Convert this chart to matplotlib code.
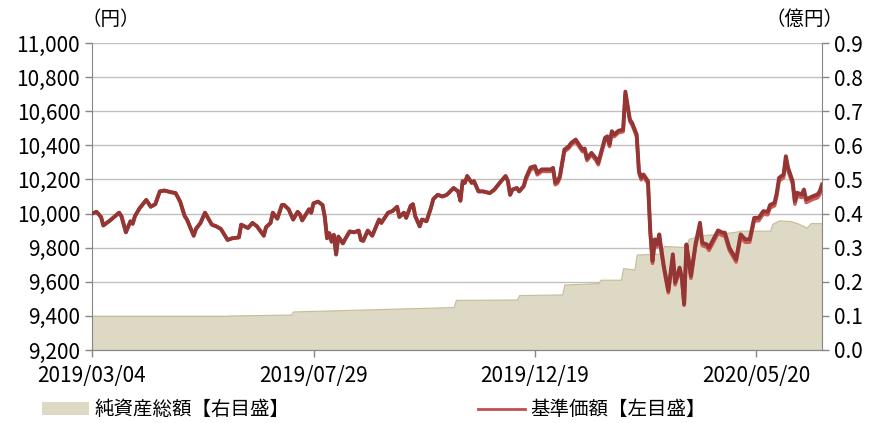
import matplotlib.pyplot as plt
from matplotlib.patches import Patch
from matplotlib.lines import Line2D

plt.rcParams['font.family'] = ['Noto Sans CJK JP', 'DejaVu Sans']

# business-day index of each reading (0 = 2019/03/04)
days = [0, 2, 4, 5, 8, 12, 13, 15, 17, 18, 19, 21, 24, 26, 28, 30, 32, 35, 37, 39,
        41, 42, 45, 46, 48, 50, 53, 55, 57, 60, 62, 65, 66, 69, 71, 73, 76, 77, 79, 80,
        82, 83, 84, 85, 87, 89, 91, 92, 93, 96, 97, 98, 100, 102, 103, 104, 105, 106, 107, 108,
        109, 111, 112, 114, 116, 118, 119, 120, 122, 123, 124, 127, 128, 130, 131, 133, 135, 136, 138, 139,
        141, 142, 143, 145, 146, 148, 150, 151, 153, 155, 157, 160, 162, 163, 164, 165, 166, 168, 169, 171,
        173, 176, 178, 181, 183, 184, 185, 186, 188, 189, 191, 192, 194, 196, 197, 199, 203, 204, 205, 206,
        207, 209, 211, 212, 214, 215, 217, 218, 219, 221, 223, 224, 226, 227, 228, 229, 230, 231, 233, 235,
        236, 238, 239, 241, 242, 243, 244, 246, 247, 248, 249, 250, 251, 252, 253, 255, 257, 258, 260, 261,
        262, 263, 264, 265, 267, 269, 270, 272, 273, 277, 279, 280, 282, 285, 287, 289, 291, 293, 295, 297,
        299, 300, 302, 303, 304, 306, 307, 308, 310, 311, 312, 314, 315, 316, 319, 321, 322, 323]

# dark line (reinvested NAV)
nav_dark = [10000, 10010, 9980, 9930, 9960, 10005, 9985, 9890, 9955, 9940, 9985, 10030, 10080, 10040, 10055, 10130, 10135, 10125, 10120, 10070,
            9985, 9965, 9870, 9910, 9945, 10005, 9935, 9925, 9910, 9845, 9855, 9860, 9935, 9915, 9945, 9925, 9870, 9920, 9945, 10005,
            9970, 10010, 10050, 10050, 10025, 9965, 10010, 9995, 9960, 10025, 10005, 10060, 10070, 10050, 9980, 9855, 9885, 9835, 9875, 9760,
            9865, 9825, 9850, 9895, 9890, 9900, 9845, 9840, 9900, 9885, 9870, 9965, 9945, 9985, 10005, 10015, 10040, 9980, 10005, 9975,
            10045, 10055, 9985, 9925, 9965, 9955, 10035, 10085, 10110, 10100, 10110, 10150, 10130, 10075, 10190, 10180, 10220, 10180, 10190, 10130,
            10130, 10120, 10140, 10190, 10220, 10190, 10110, 10140, 10150, 10130, 10160, 10210, 10270, 10278, 10239, 10259, 10259, 10268, 10181, 10190,
            10220, 10375, 10395, 10414, 10434, 10414, 10375, 10381, 10323, 10356, 10323, 10298, 10395, 10444, 10453, 10405, 10483, 10463, 10486, 10492,
            10715, 10551, 10531, 10463, 10249, 10210, 10229, 10190, 9900, 9722, 9849, 9820, 9878, 9781, 9693, 9548, 9761, 9596, 9683, 9625,
            9470, 9819, 9732, 9635, 9819, 9946, 9829, 9819, 9800, 9901, 9888, 9888, 9800, 9732, 9878, 9849, 9849, 9975, 9975, 10014,
            10010, 10050, 10063, 10122, 10209, 10229, 10336, 10268, 10190, 10073, 10122, 10112, 10141, 10083, 10102, 10112, 10131, 10170]

# 基準価額
nav = [10000, 10010, 9980, 9930, 9960, 10005, 9985, 9890, 9955, 9940, 9985, 10030, 10080, 10040, 10055, 10130, 10135, 10125, 10120, 10070,
       9985, 9965, 9870, 9910, 9945, 10005, 9935, 9925, 9910, 9845, 9855, 9860, 9935, 9915, 9945, 9925, 9870, 9920, 9945, 10005,
       9970, 10010, 10050, 10050, 10025, 9965, 10010, 9995, 9960, 10025, 10005, 10060, 10070, 10050, 9980, 9855, 9885, 9835, 9875, 9760,
       9865, 9825, 9850, 9895, 9890, 9900, 9845, 9840, 9900, 9885, 9870, 9965, 9945, 9985, 10005, 10015, 10040, 9980, 10005, 9975,
       10045, 10055, 9985, 9925, 9965, 9955, 10035, 10085, 10110, 10100, 10110, 10150, 10130, 10075, 10190, 10180, 10220, 10180, 10190, 10130,
       10130, 10120, 10140, 10190, 10220, 10190, 10110, 10140, 10150, 10130, 10160, 10198, 10258, 10266, 10227, 10247, 10247, 10256, 10169, 10178,
       10208, 10363, 10383, 10402, 10422, 10402, 10363, 10369, 10311, 10344, 10311, 10286, 10383, 10432, 10441, 10393, 10471, 10451, 10474, 10480,
       10700, 10539, 10519, 10451, 10237, 10198, 10217, 10175, 9885, 9708, 9833, 9804, 9862, 9765, 9678, 9535, 9745, 9582, 9667, 9610,
       9462, 9803, 9716, 9620, 9803, 9930, 9813, 9803, 9784, 9884, 9871, 9871, 9784, 9716, 9862, 9832, 9832, 9958, 9958, 9997,
       9993, 10033, 10046, 10105, 10191, 10211, 10318, 10250, 10172, 10055, 10104, 10094, 10122, 10065, 10084, 10093, 10112, 10150]

# 純資産総額 (億円)
aum_days = [0, 60, 61, 88, 89, 160, 161, 188, 189, 208, 209, 224, 225, 234, 235, 240, 241, 252, 253, 263,
            264, 270, 278, 285, 287, 300, 301, 304, 309, 312, 315, 316, 318, 323]
aum = [0.100, 0.100, 0.101, 0.104, 0.113, 0.126, 0.147, 0.148, 0.161, 0.163, 0.192, 0.196, 0.206, 0.206, 0.240, 0.236, 0.280, 0.283, 0.305, 0.302,
       0.326, 0.337, 0.341, 0.347, 0.350, 0.350, 0.370, 0.380, 0.378, 0.372, 0.363, 0.358, 0.372, 0.372]

tick_days = [0, 98, 196, 294]
tick_labels = ['2019/03/04', '2019/07/29', '2019/12/19', '2020/05/20']

grey = '#868686'
fig = plt.figure(figsize=(8.73, 4.23), dpi=100)
ax = fig.add_axes([0.1054, 0.1726, 0.8362, 0.7257])
ax2 = ax.twinx()

# area + grid behind, lines in front
ax.set_zorder(ax2.get_zorder() + 1)
ax.patch.set_visible(False)
ax2.patch.set_visible(True)
ax2.patch.set_facecolor('white')

ax2.fill_between(aum_days, aum, 0, facecolor='#ddd9c4', edgecolor='#c4bd97', linewidth=0.8, zorder=2)
ax2.set_ylim(0, 0.9)
ax2.set_yticks([i / 10 for i in range(10)])
ax2.set_yticklabels([f'{i / 10:.1f}' for i in range(10)])
ax2.set_axisbelow(True)
ax2.grid(axis='y', color='#c0c0c0', linewidth=1.0, zorder=0)

ax.plot(days, nav, color='#d05a56', linewidth=2.6, zorder=3)
ax.plot(days, nav_dark, color='#943634', linewidth=2.8, zorder=4)
ax.set_ylim(9200, 11000)
ax.set_yticks(range(9200, 11001, 200))
ax.set_yticklabels([f'{v:,}' for v in range(9200, 11001, 200)])
ax.set_xlim(0, 323)
ax.set_xticks(tick_days)
ax.set_xticklabels(tick_labels)

for a in (ax, ax2):
    for s in a.spines.values():
        s.set_color(grey)
    a.spines['top'].set_visible(False)
    a.tick_params(colors=grey, labelcolor='black', labelsize=15, length=5, width=1)
ax.spines['right'].set_visible(False)
ax2.spines['left'].set_visible(False)
ax.tick_params(axis='x', pad=6)

fig.text(0.127, 0.955, '（円）', fontsize=14, ha='center', va='center')
fig.text(0.922, 0.955, '（億円）', fontsize=14, ha='center', va='center')

handles = [Patch(facecolor='#ddd9c4', edgecolor='none'),
           Line2D([], [], color='#c0504d', linewidth=2)]
fig.legend(handles, ['純資産総額【右目盛】', '基準価額【左目盛】'], loc='center left',
           bbox_to_anchor=(0.048, 0.031), ncol=2, frameon=False, fontsize=14,
           handlelength=2.4, handletextpad=0.3, columnspacing=9.7, borderpad=0, borderaxespad=0)

fig.savefig('out.png', dpi=100)
